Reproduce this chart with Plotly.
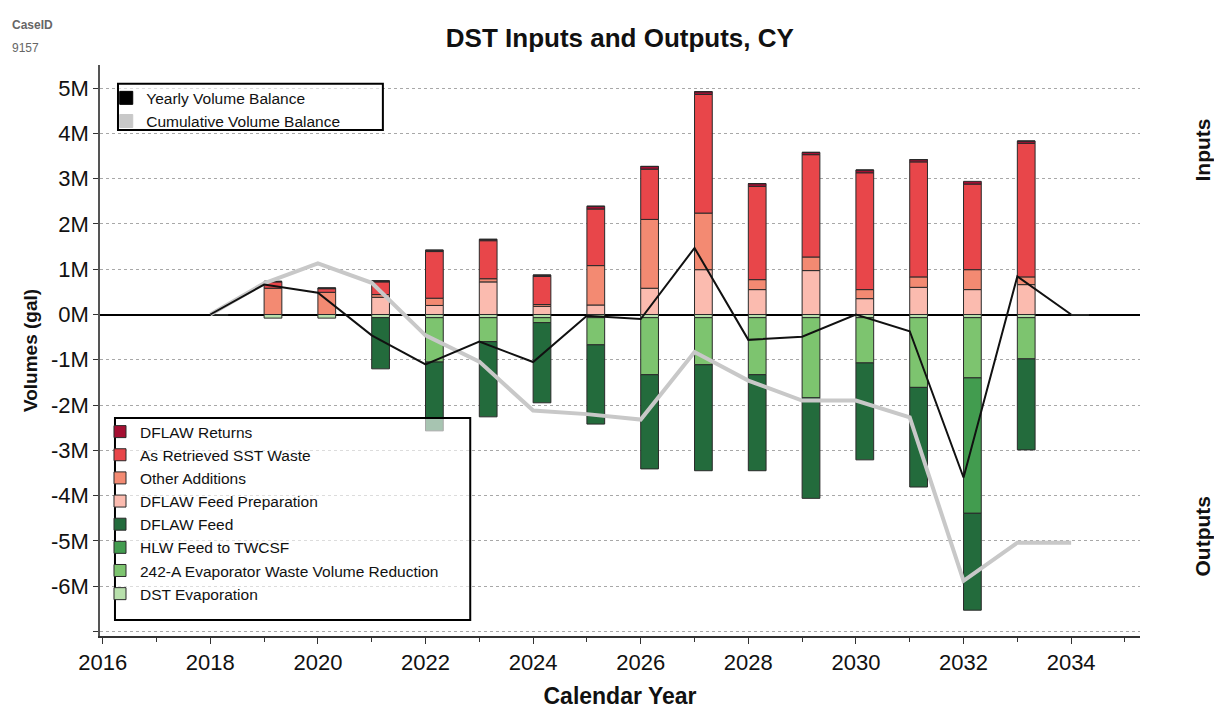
"""DST inputs and outputs by calendar year."""

import plotly.graph_objects as go

YEARS = list(range(2018, 2035))

# Inputs (gallons), stacked upward from zero
DFLAW_FEED_PREP = [0, 0, 0, 0.38e6, 0.20e6, 0.72e6, 0.18e6, 0.21e6, 0.58e6, 0.99e6,
                   0.55e6, 0.97e6, 0.35e6, 0.60e6, 0.55e6, 0.66e6, 0]
OTHER_ADDITIONS = [0, 0.58e6, 0.49e6, 0.06e6, 0.16e6, 0.07e6, 0.04e6, 0.87e6, 1.52e6, 1.25e6,
                   0.22e6, 0.30e6, 0.20e6, 0.23e6, 0.44e6, 0.17e6, 0]
AS_RETRIEVED_SST = [0, 0.14e6, 0.08e6, 0.28e6, 1.03e6, 0.84e6, 0.62e6, 1.25e6, 1.11e6, 2.62e6,
                    2.06e6, 2.26e6, 2.58e6, 2.54e6, 1.89e6, 2.95e6, 0]
DFLAW_RETURNS = [0, 0.01e6, 0.01e6, 0.02e6, 0.03e6, 0.03e6, 0.03e6, 0.06e6, 0.06e6, 0.06e6,
                 0.06e6, 0.05e6, 0.06e6, 0.05e6, 0.06e6, 0.05e6, 0]

# Outputs (gallons), stacked downward from zero
DST_EVAPORATION = [0, -0.08e6, -0.08e6, -0.07e6, -0.07e6, -0.07e6, -0.07e6, -0.07e6, -0.07e6,
                   -0.07e6, -0.07e6, -0.07e6, -0.07e6, -0.07e6, -0.07e6, -0.07e6, 0]
EVAP_242A = [0, 0, 0, 0, -0.98e6, -0.53e6, -0.11e6, -0.60e6, -1.26e6, -1.04e6,
             -1.26e6, -1.77e6, -1.00e6, -1.54e6, -1.33e6, -0.91e6, 0]
HLW_FEED_TWCSF = [0, 0, 0, 0, 0, 0, 0, 0, 0, 0, 0, 0, 0, 0, -2.99e6, 0, 0]
DFLAW_FEED = [-0.015e6, 0, 0, -1.13e6, -1.52e6, -1.66e6, -1.77e6, -1.75e6, -2.08e6, -2.34e6,
              -2.12e6, -2.22e6, -2.14e6, -2.20e6, -2.14e6, -2.01e6, -0.015e6]

YEARLY_BALANCE = [0, 0.66e6, 0.48e6, -0.46e6, -1.10e6, -0.60e6, -1.05e6, -0.03e6, -0.10e6,
                  1.47e6, -0.56e6, -0.49e6, 0.0, -0.37e6, -3.60e6, 0.84e6, 0]
CUMULATIVE_BALANCE = [0, 0.69e6, 1.13e6, 0.70e6, -0.46e6, -1.04e6, -2.12e6, -2.20e6, -2.32e6,
                      -0.83e6, -1.46e6, -1.90e6, -1.90e6, -2.27e6, -5.88e6, -5.04e6, -5.04e6]

Y_TICKS = [-7e6, -6e6, -5e6, -4e6, -3e6, -2e6, -1e6, 0, 1e6, 2e6, 3e6, 4e6, 5e6]
Y_TICK_TEXT = ["", "-6M", "-5M", "-4M", "-3M", "-2M", "-1M", "0M", "1M", "2M", "3M", "4M", "5M"]

FONT = "Liberation Sans, Arial"
OUTLINE = "#2a2a2a"

# (name, values, colour, legend rank); trace order sets stacking from zero outward
BAR_SERIES = [
    ("DFLAW Feed Preparation", DFLAW_FEED_PREP, "#FBBBAF", 4),
    ("Other Additions", OTHER_ADDITIONS, "#F38A72", 3),
    ("As Retrieved SST Waste", AS_RETRIEVED_SST, "#E8464A", 2),
    ("DFLAW Returns", DFLAW_RETURNS, "#A50F32", 1),
    ("DST Evaporation", DST_EVAPORATION, "#B8E0AC", 8),
    ("242-A Evaporator Waste Volume Reduction", EVAP_242A, "#7DC46F", 7),
    ("HLW Feed to TWCSF", HLW_FEED_TWCSF, "#429C4F", 6),
    ("DFLAW Feed", DFLAW_FEED, "#236B3C", 5),
]

fig = go.Figure()

for name, values, color, rank in BAR_SERIES:
    fig.add_trace(
        go.Bar(
            x=YEARS,
            y=values,
            name=name,
            width=0.33,
            offset=0,
            marker=dict(color=color, line=dict(color=OUTLINE, width=1)),
            legend="legend2",
            legendrank=rank,
        )
    )

fig.add_trace(
    go.Scatter(
        x=YEARS, y=CUMULATIVE_BALANCE, mode="lines",
        line=dict(color="#C8C8C8", width=4), showlegend=False,
    )
)
fig.add_trace(
    go.Scatter(
        x=YEARS, y=YEARLY_BALANCE, mode="lines",
        line=dict(color="#111111", width=2), showlegend=False,
    )
)

# square legend keys for the two balance lines
for name, color in [("Yearly Volume Balance", "#000000"), ("Cumulative Volume Balance", "#C8C8C8")]:
    fig.add_trace(
        go.Scatter(
            x=[None], y=[None], mode="markers", name=name,
            marker=dict(symbol="square", size=13, color=color, line=dict(color=color, width=1)),
            legend="legend",
        )
    )

# legend frames (semi-transparent, wash out the bars underneath)
fig.add_shape(type="rect", xref="paper", yref="paper", x0=0.0173, x1=0.272, y0=0.886, y1=0.967,
              fillcolor="rgba(255,255,255,0.6)", line=dict(color="#000000", width=2), layer="above")
fig.add_shape(type="rect", xref="paper", yref="paper", x0=0.0144, x1=0.356, y0=0.028, y1=0.382,
              fillcolor="rgba(255,255,255,0.6)", line=dict(color="#000000", width=2), layer="above")

for text, y in [("Inputs", 0.851), ("Outputs", 0.175)]:
    fig.add_annotation(
        text=f"<b>{text}</b>", xref="paper", yref="paper", x=1.06, y=y,
        xanchor="center", yanchor="middle",
        textangle=-90, showarrow=False, font=dict(family=FONT, size=21, color="#111"),
    )

fig.add_annotation(text="<b>CaseID</b>", xref="paper", yref="paper", x=-0.087, y=1.086,
                   xanchor="left", showarrow=False, font=dict(family=FONT, size=12, color="#666"))
fig.add_annotation(text="9157", xref="paper", yref="paper", x=-0.087, y=1.046,
                   xanchor="left", showarrow=False, font=dict(family=FONT, size=12, color="#666"))

# the page adds an 8px body margin, so the figure is 8px smaller than the window
fig.update_layout(
    width=1214,
    height=701,
    paper_bgcolor="white",
    plot_bgcolor="white",
    margin=dict(l=92, r=82, t=57, b=73, autoexpand=False),
    barmode="relative",
    title=dict(
        text="<b>DST Inputs and Outputs, CY</b>",
        x=0.504, xanchor="center", y=0.957, yanchor="middle",
        font=dict(family=FONT, size=26, color="#111"),
    ),
    legend=dict(
        x=0.006, y=0.9715, xanchor="left", yanchor="top",
        bgcolor="rgba(0,0,0,0)", borderwidth=0,
        font=dict(family=FONT, size=15.5, color="#111"),
        traceorder="normal",
    ),
    legend2=dict(
        x=0.0, y=0.387, xanchor="left", yanchor="top",
        bgcolor="rgba(0,0,0,0)", borderwidth=0,
        font=dict(family=FONT, size=15.5, color="#111"),
        traceorder="normal",
    ),
    showlegend=True,
)

fig.update_xaxes(
    title=dict(text="<b>Calendar Year</b>", font=dict(family=FONT, size=23, color="#111"), standoff=20),
    automargin=False,
    range=[2015.95, 2035.28],
    tickmode="linear", tick0=2016, dtick=2, tickformat="d",
    ticks="outside", ticklen=6, tickcolor="#333",
    minor=dict(tickmode="linear", tick0=2016, dtick=1, ticks="outside", ticklen=4, tickcolor="#333"),
    tickfont=dict(family=FONT, size=22, color="#111"),
    showline=True, linecolor="#333", linewidth=2,
    showgrid=False, zeroline=False,
)

fig.update_yaxes(
    title=dict(text="<b>Volumes (gal)</b>", font=dict(family=FONT, size=19, color="#111"), standoff=8),
    automargin=False,
    range=[-7.1e6, 5.51e6],
    tickmode="array", tickvals=Y_TICKS, ticktext=Y_TICK_TEXT,
    ticks="outside", ticklen=5, tickcolor="#333",
    tickfont=dict(family=FONT, size=22, color="#111"),
    showline=True, linecolor="#555", linewidth=1.5,
    showgrid=True, gridcolor="#A8A8A8", gridwidth=1, griddash="dot",
    zeroline=True, zerolinecolor="#000000", zerolinewidth=2,
)

fig.update_layout(
    yaxis2=dict(
        overlaying="y", side="right", range=[-7.1e6, 5.51e6], automargin=False,
        tickmode="array", tickvals=Y_TICKS, ticktext=Y_TICK_TEXT,
        ticks="outside", ticklen=5, tickcolor="#333",
        tickfont=dict(family=FONT, size=22, color="#111"),
        showline=True, linecolor="#CCCCCC", linewidth=1.5,
        showgrid=False, zeroline=False,
    )
)

fig.write_html("out.html")
